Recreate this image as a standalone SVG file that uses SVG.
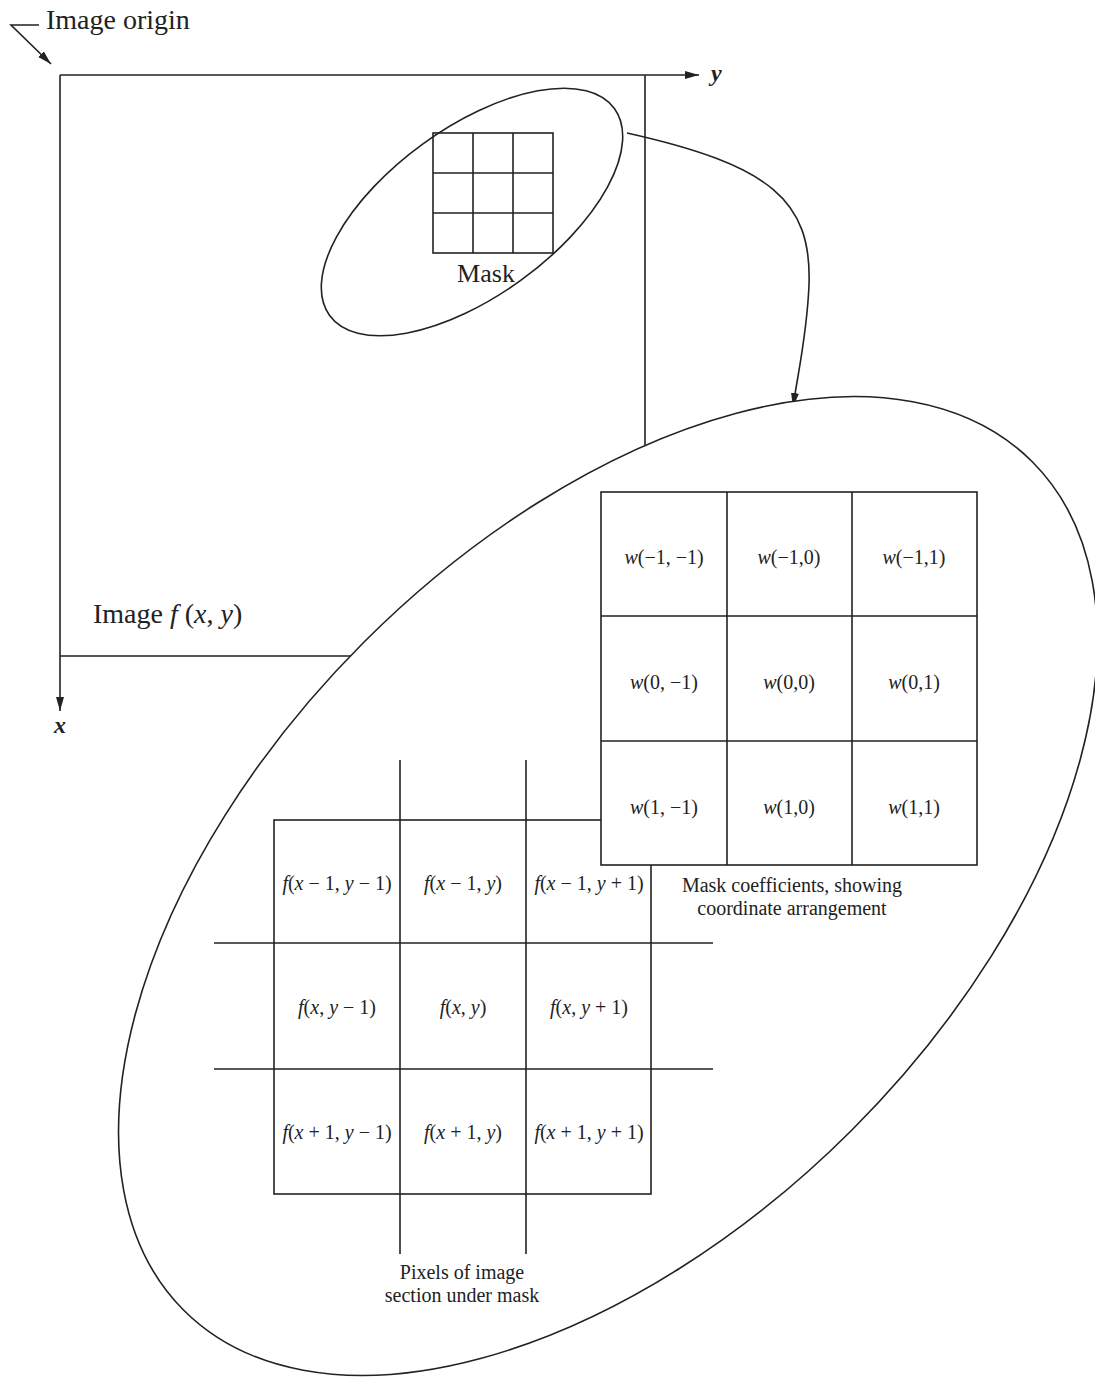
<svg xmlns="http://www.w3.org/2000/svg" width="1095" height="1379" viewBox="0 0 1095 1379">
<style>
.ln{stroke:#222;stroke-width:1.6;fill:none}
.cell{stroke:#222;stroke-width:1.6;fill:#fff}
.t{font-family:"Liberation Serif","Times New Roman",serif;fill:#222}
.big{font-size:28px}
.cf{font-size:20px;text-anchor:middle}
.lab{font-size:20px;text-anchor:middle}
.i{font-style:italic}
.ax{font-style:italic;font-weight:bold;font-size:24px}
</style>
<defs>
<marker id="arrL" viewBox="0 0 14 10" refX="14" refY="5" markerWidth="14" markerHeight="10" markerUnits="userSpaceOnUse" orient="auto">
<path d="M0,1 L14,5 L0,9 Z" fill="#222"/>
</marker>
</defs>

<g id="image-frame">
<line class="ln" x1="60" y1="75" x2="699" y2="75" marker-end="url(#arrL)"/>
<line class="ln" x1="60" y1="75" x2="60" y2="711" marker-end="url(#arrL)"/>
<line class="ln" x1="645" y1="75" x2="645" y2="470"/>
<line class="ln" x1="60" y1="656" x2="360" y2="656"/>
<text class="t ax" x="711" y="81">y</text>
<text class="t ax" x="54" y="733">x</text>
<text class="t big" x="93" y="623">Image <tspan class="i">f</tspan> (<tspan class="i">x</tspan>, <tspan class="i">y</tspan>)</text>
</g>

<g id="image-origin">
<polyline class="ln" points="39,25 11,25 51,64" marker-end="url(#arrL)"/>
<text class="t big" x="46" y="29">Image origin</text>
</g>

<g id="mask">
<ellipse class="ln" cx="472" cy="212" rx="176" ry="84" transform="rotate(-36 472 212)"/>
<rect class="ln" x="433" y="133" width="120" height="120"/>
<line class="ln" x1="473" y1="133" x2="473" y2="253"/>
<line class="ln" x1="513" y1="133" x2="513" y2="253"/>
<line class="ln" x1="433" y1="173" x2="553" y2="173"/>
<line class="ln" x1="433" y1="213" x2="553" y2="213"/>
<text class="t" x="486" y="282" font-size="26" text-anchor="middle">Mask</text>
</g>

<g id="connectors">
<path class="ln" d="M627,133 C770,165 812,200 809,285 C807,335 798,372 793,407" marker-end="url(#arrL)"/>
</g>

<g id="zoom-ellipse">
<ellipse cx="608" cy="886" rx="600" ry="345" transform="rotate(-45 608 886)" fill="#fff" stroke="#222" stroke-width="1.6"/>
</g>

<g id="pixel-grid">
<rect class="ln" x="274" y="820" width="377" height="374"/>
<line class="ln" x1="400" y1="760" x2="400" y2="1254"/>
<line class="ln" x1="526" y1="760" x2="526" y2="1254"/>
<line class="ln" x1="214" y1="943" x2="713" y2="943"/>
<line class="ln" x1="214" y1="1069" x2="713" y2="1069"/>
<g class="t cf" font-size="21">
<text x="337" y="890"><tspan class="i">f</tspan>(<tspan class="i">x</tspan> − 1, <tspan class="i">y</tspan> − 1)</text>
<text x="463" y="890"><tspan class="i">f</tspan>(<tspan class="i">x</tspan> − 1, <tspan class="i">y</tspan>)</text>
<text x="589" y="890"><tspan class="i">f</tspan>(<tspan class="i">x</tspan> − 1, <tspan class="i">y</tspan> + 1)</text>
<text x="337" y="1014"><tspan class="i">f</tspan>(<tspan class="i">x</tspan>, <tspan class="i">y</tspan> − 1)</text>
<text x="463" y="1014"><tspan class="i">f</tspan>(<tspan class="i">x</tspan>, <tspan class="i">y</tspan>)</text>
<text x="589" y="1014"><tspan class="i">f</tspan>(<tspan class="i">x</tspan>, <tspan class="i">y</tspan> + 1)</text>
<text x="337" y="1139"><tspan class="i">f</tspan>(<tspan class="i">x</tspan> + 1, <tspan class="i">y</tspan> − 1)</text>
<text x="463" y="1139"><tspan class="i">f</tspan>(<tspan class="i">x</tspan> + 1, <tspan class="i">y</tspan>)</text>
<text x="589" y="1139"><tspan class="i">f</tspan>(<tspan class="i">x</tspan> + 1, <tspan class="i">y</tspan> + 1)</text>
</g>
<text class="t lab" x="462" y="1279">Pixels of image</text>
<text class="t lab" x="462" y="1302">section under mask</text>
</g>

<g id="mask-coefficients">
<rect class="cell" x="601" y="492" width="376" height="373"/>
<line class="ln" x1="727" y1="492" x2="727" y2="865"/>
<line class="ln" x1="852" y1="492" x2="852" y2="865"/>
<line class="ln" x1="601" y1="616" x2="977" y2="616"/>
<line class="ln" x1="601" y1="741" x2="977" y2="741"/>
<g class="t cf">
<text x="664" y="564"><tspan class="i">w</tspan>(−1, −1)</text>
<text x="789" y="564"><tspan class="i">w</tspan>(−1,0)</text>
<text x="914" y="564"><tspan class="i">w</tspan>(−1,1)</text>
<text x="664" y="689"><tspan class="i">w</tspan>(0, −1)</text>
<text x="789" y="689"><tspan class="i">w</tspan>(0,0)</text>
<text x="914" y="689"><tspan class="i">w</tspan>(0,1)</text>
<text x="664" y="814"><tspan class="i">w</tspan>(1, −1)</text>
<text x="789" y="814"><tspan class="i">w</tspan>(1,0)</text>
<text x="914" y="814"><tspan class="i">w</tspan>(1,1)</text>
</g>
<text class="t lab" x="792" y="892">Mask coefficients, showing</text>
<text class="t lab" x="792" y="915">coordinate arrangement</text>
</g>
</svg>
